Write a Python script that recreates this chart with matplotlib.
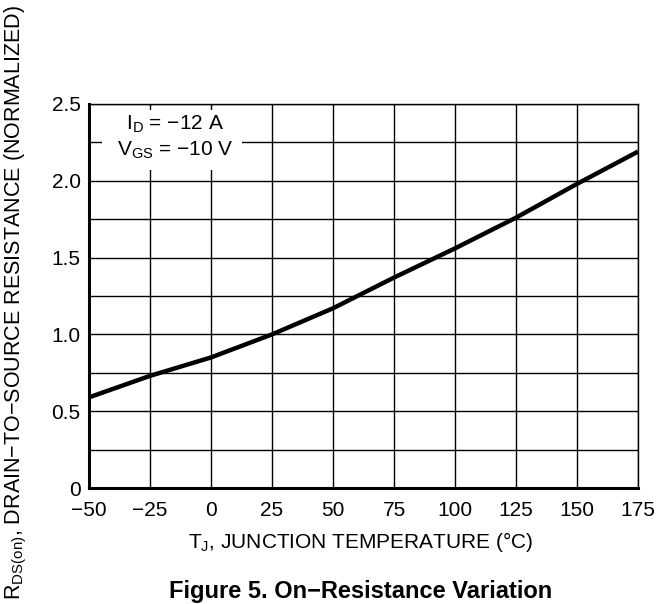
import numpy as np
import matplotlib.pyplot as plt
from matplotlib.patches import Rectangle

plt.rcParams['font.family'] = ['Liberation Sans', 'DejaVu Sans']

# curve
temp = [-50, -25, 0, 25, 50, 75, 100, 125, 150, 175]
rds = [0.59, 0.73, 0.85, 1.0, 1.17, 1.37, 1.56, 1.76, 1.98, 2.19]

xticks = [-50, -25, 0, 25, 50, 75, 100, 125, 150, 175]
xlabels = ['\u221250', '\u221225', '0', '25', '50', '75', '100', '125', '150', '175']
yticks = [0, 0.5, 1.0, 1.5, 2.0, 2.5]
ylabels = ['0', '0.5', '1.0', '1.5', '2.0', '2.5']

fig = plt.figure(figsize=(6.56, 6.04), dpi=100)
ax = fig.add_axes([89/656, 1-488/604, 549/656, 384/604])

ax.set_xlim(-50, 175)
ax.set_ylim(0, 2.5)
ax.set_yticks(np.arange(0, 2.51, 0.25), minor=True)
ax.set_xticks(xticks)
ax.set_xticklabels(xlabels)
ax.set_yticks(yticks)
ax.set_yticklabels(ylabels)
ax.grid(True, which='both', color='black', lw=1.0)
ax.set_axisbelow(True)
ax.tick_params(which='both', length=0, labelsize=15)
ax.tick_params(axis='y', pad=6)
ax.tick_params(axis='x', pad=9)

for s in ['top', 'right']:
    ax.spines[s].set_linewidth(1.0)
for s in ['left', 'bottom']:
    ax.spines[s].set_linewidth(2.2)

ax.plot(temp, rds, color='black', lw=3.2, solid_capstyle='butt', zorder=5, clip_on=False)

# white box behind the conditions text
ax.add_patch(Rectangle((0.024, 0.828), 0.255, 0.156, transform=ax.transAxes,
                       facecolor='white', edgecolor='none', zorder=3))
ax.text(0.157, 0.935, 'I$_\\mathregular{D}$ = \u221212 A', transform=ax.transAxes,
        ha='center', va='baseline', fontsize=15, zorder=4)
ax.text(0.157, 0.867, 'V$_\\mathregular{GS}$ = \u221210 V', transform=ax.transAxes,
        ha='center', va='baseline', fontsize=15, zorder=4)

fig.text(361/656, 1-548/604, 'T$_\\mathregular{J}$, JUNCTION TEMPERATURE (\u00b0C)',
         ha='center', va='baseline', fontsize=15)
fig.text(0.024, 0.5, 'R$_\\mathregular{DS(on)}$, DRAIN\u2212TO\u2212SOURCE RESISTANCE (NORMALIZED)',
         rotation=90, ha='center', va='center', fontsize=15.5)
fig.text(361/656, 1-598/604, 'Figure 5. On\u2212Resistance Variation', ha='center', va='baseline',
         fontsize=17, fontweight='bold')

plt.savefig('out.png', dpi=100)
